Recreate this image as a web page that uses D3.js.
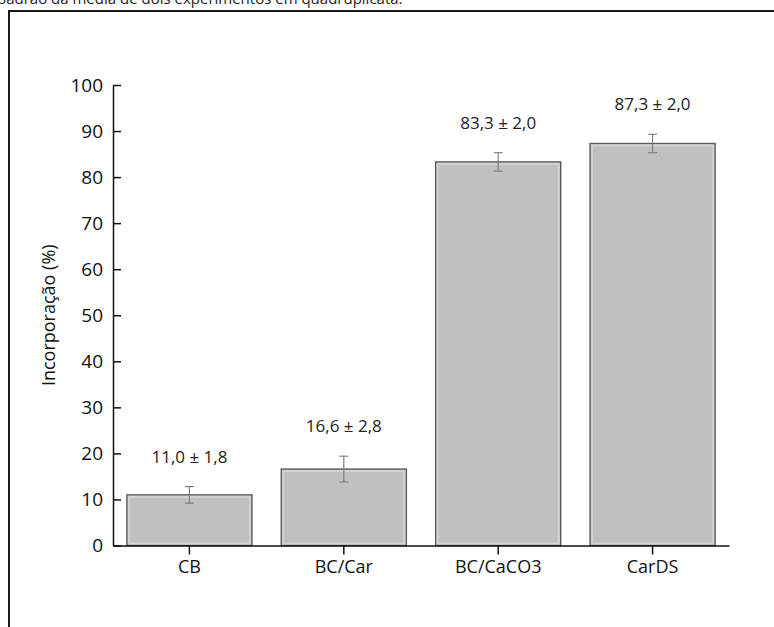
<!DOCTYPE html>
<html>
<head>
<meta charset="utf-8">
<script src="https://cdn.jsdelivr.net/npm/d3@7"></script>
<style>
  html, body { margin: 0; padding: 0; background: #fff; }
  svg { display: block; }
</style>
</head>
<body>
<svg id="chart" width="774" height="627"></svg>
<script>
// Incorporation per formulation (mean ± standard deviation)
const categories = ["CB", "BC/Car", "BC/CaCO3", "CarDS"];
const means = [11.0, 16.6, 83.3, 87.3];
const deviations = [1.8, 2.8, 2.0, 2.0];
const yTicks = [0, 10, 20, 30, 40, 50, 60, 70, 80, 90, 100];
const fmt = v => v.toFixed(1).replace(".", ",");

const svg = d3.select("#chart");
const FONT = "'Open Sans', sans-serif";

// Caption line running above the frame (clipped at the top edge)
svg.append("text")
  .attr("x", -3).attr("y", 4)
  .attr("font-family", FONT).attr("font-size", 15).attr("fill", "#222")
  .text("padrão da média de dois experimentos em quadruplicata.");

// Outer frame: top and left edges
svg.append("path")
  .attr("d", "M9,640 V11 H790")
  .attr("fill", "none").attr("stroke", "#1a1a1a").attr("stroke-width", 2);

const x = d3.scaleBand()
  .domain(categories)
  .range([113, 729])
  .paddingInner(0.19)
  .paddingOuter(0.09);

const y = d3.scaleLinear().domain([0, 100]).range([545.5, 85]);

// Bars
const bars = svg.append("g");
bars.selectAll("rect.bar")
  .data(categories)
  .join("rect")
  .attr("class", "bar")
  .attr("x", d => x(d))
  .attr("y", (d, i) => y(means[i]))
  .attr("width", x.bandwidth())
  .attr("height", (d, i) => y(0) - y(means[i]))
  .attr("fill", "#c0c0c0")
  .attr("stroke", "#5a5a5a")
  .attr("stroke-width", 1.4);

// soft inner highlight along the bar edges
bars.selectAll("rect.glow")
  .data(categories)
  .join("rect")
  .attr("class", "glow")
  .attr("x", d => x(d) + 2)
  .attr("y", (d, i) => y(means[i]) + 2)
  .attr("width", x.bandwidth() - 4)
  .attr("height", (d, i) => y(0) - y(means[i]) - 4)
  .attr("fill", "none")
  .attr("stroke", "#d2d2d2")
  .attr("stroke-width", 2);

// Error bars
const err = svg.append("g").attr("stroke", "#7a7a7a").attr("stroke-width", 1.1).attr("fill", "none");
categories.forEach((c, i) => {
  const cx = x(c) + x.bandwidth() / 2;
  const lo = y(means[i] - deviations[i]);
  const hi = y(means[i] + deviations[i]);
  err.append("line").attr("x1", cx).attr("x2", cx).attr("y1", lo).attr("y2", hi);
  err.append("line").attr("x1", cx - 4.5).attr("x2", cx + 4.5).attr("y1", lo).attr("y2", lo);
  err.append("line").attr("x1", cx - 4.5).attr("x2", cx + 4.5).attr("y1", hi).attr("y2", hi);
});

// Value labels above error bars
svg.append("g").selectAll("text")
  .data(categories)
  .join("text")
  .attr("x", d => x(d) + x.bandwidth() / 2)
  .attr("y", (d, i) => y(means[i] + deviations[i]) - 24)
  .attr("text-anchor", "middle")
  .attr("font-family", FONT).attr("font-size", 17).attr("fill", "#222")
  .text((d, i) => `${fmt(means[i])} ± ${fmt(deviations[i])}`);

// Y axis (ticks pointing into the plot)
const yAxis = svg.append("g")
  .attr("transform", "translate(113,0)")
  .call(d3.axisLeft(y).tickValues(yTicks).tickSizeInner(-8).tickSizeOuter(0).tickPadding(10));
yAxis.select(".domain").attr("stroke", "#111").attr("stroke-width", 1.5);
yAxis.selectAll(".tick line").attr("stroke", "#111").attr("stroke-width", 1.5);
yAxis.selectAll(".tick text").attr("font-family", FONT).attr("font-size", 19).attr("fill", "#111");

// X axis
const xAxis = svg.append("g")
  .attr("transform", `translate(0,${y(0)})`)
  .call(d3.axisBottom(x).tickSizeInner(9).tickSizeOuter(0).tickPadding(6));
xAxis.select(".domain").attr("stroke", "#111").attr("stroke-width", 1.5);
xAxis.selectAll(".tick line").attr("stroke", "#111").attr("stroke-width", 1.5);
xAxis.selectAll(".tick text").attr("font-family", FONT).attr("font-size", 18).attr("fill", "#111");

// Y axis title
svg.append("text")
  .attr("transform", `translate(55,${(y(0) + y(100)) / 2}) rotate(-90)`)
  .attr("text-anchor", "middle")
  .attr("font-family", FONT).attr("font-size", 18).attr("fill", "#111")
  .text("Incorporação (%)");
</script>
</body>
</html>
